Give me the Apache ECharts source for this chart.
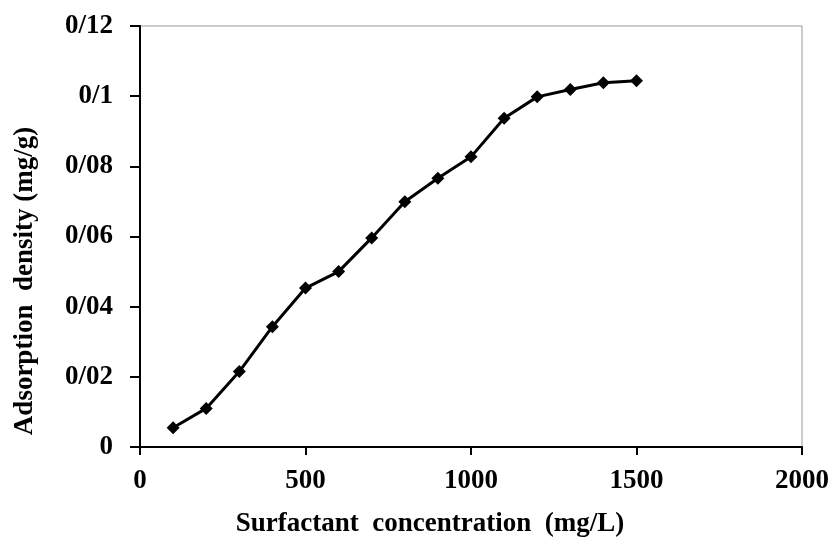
<!DOCTYPE html>
<html>
<head>
<meta charset="utf-8">
<script src="https://cdn.jsdelivr.net/npm/echarts@6/dist/echarts.min.js"></script>
<style>html,body{margin:0;padding:0;background:#fff}#c{width:833px;height:538px}</style>
</head>
<body>
<div id="c"></div>
<script>
const concentration = [100, 200, 300, 400, 500, 600, 700, 800, 900, 1000, 1100, 1200, 1300, 1400, 1500];
const adsorption = [0.0055, 0.011, 0.0215, 0.0343, 0.0453, 0.0500, 0.0596, 0.0699, 0.0766, 0.0827, 0.0937, 0.0998, 0.1019, 0.1038, 0.1044];
const xTitle = 'Surfactant  concentration  (mg/L)';
const yTitle = 'Adsorption  density (mg/g)';

const font = 'Liberation Serif';
const chart = echarts.init(document.getElementById('c'));
chart.setOption({
  animation: false,
  grid: {left: 140, top: 26, right: 31, bottom: 91, show: true, borderColor: '#999', borderWidth: 1,
    containLabel: false, outerBoundsMode: 'none'},
  xAxis: {
    type: 'value', min: 0, max: 2000, interval: 500,
    name: xTitle, nameLocation: 'middle', nameGap: 64,
    nameTextStyle: {fontFamily: font, fontWeight: 'bold', fontSize: 27, color: '#000', padding: [0, 82, 0, 0]},
    axisLine: {lineStyle: {color: '#000', width: 2}},
    axisTick: {show: true, length: 8, lineStyle: {color: '#000', width: 2}},
    axisLabel: {fontFamily: font, fontWeight: 'bold', fontSize: 27, color: '#000', margin: 21,
      formatter: v => String(v)},
    splitLine: {show: false}
  },
  yAxis: {
    type: 'value', min: 0, max: 0.12, interval: 0.02,
    name: yTitle, nameLocation: 'middle', nameGap: 101,
    nameTextStyle: {fontFamily: font, fontWeight: 'bold', fontSize: 27, color: '#000', padding: [0, 89, 0, 0]},
    axisLine: {show: true, lineStyle: {color: '#000', width: 2}},
    axisTick: {show: true, length: 10, lineStyle: {color: '#000', width: 2}},
    axisLabel: {fontFamily: font, fontWeight: 'bold', fontSize: 27, color: '#000', margin: 27,
      formatter: v => String(parseFloat(v.toFixed(2))).replace('.', '/')},
    splitLine: {show: false}
  },
  series: [{
    type: 'line',
    data: concentration.map((c, i) => [c, adsorption[i]]),
    symbol: 'diamond', symbolSize: 13,
    lineStyle: {color: '#000', width: 3},
    itemStyle: {color: '#000'}
  }]
});
</script>
</body>
</html>
